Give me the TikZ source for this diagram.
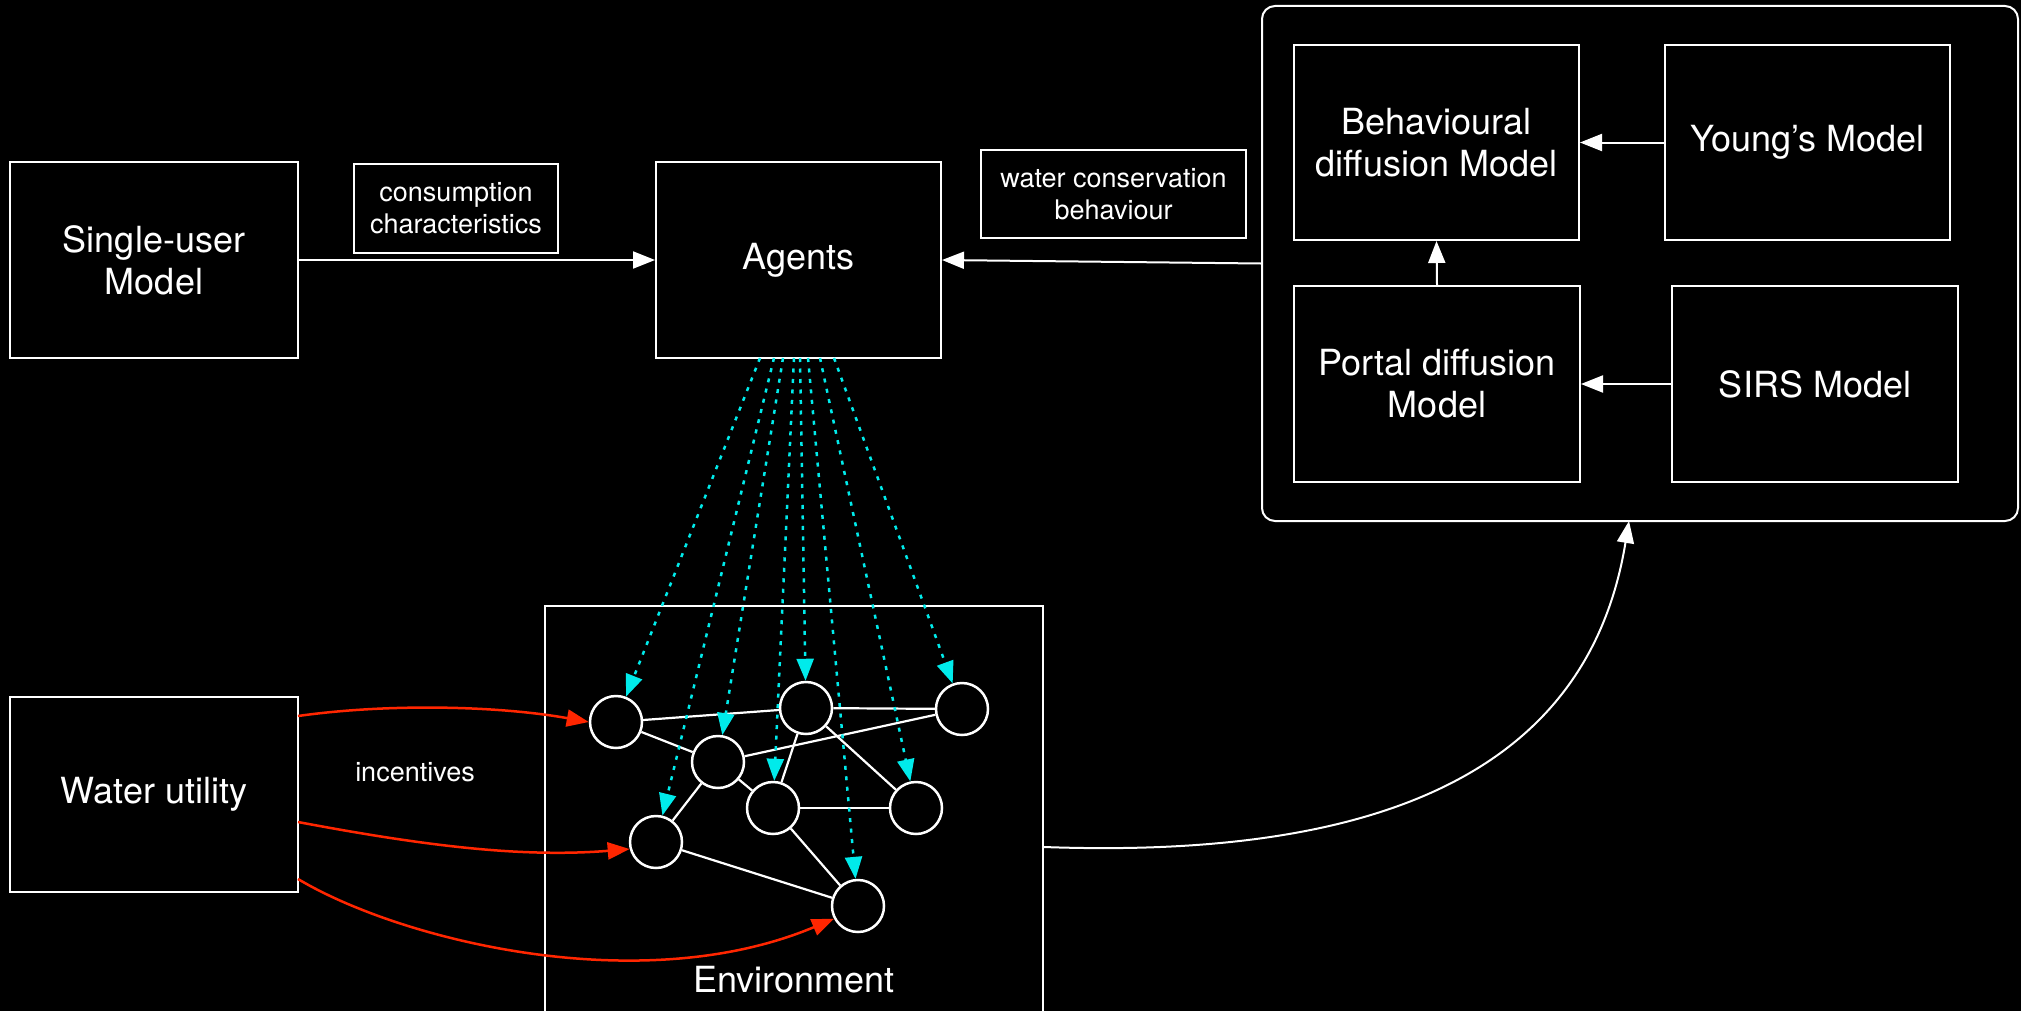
\documentclass[tikz,border=0pt]{standalone}
\usepackage{fontspec}
\setmainfont{TeX Gyre Heros}
\usetikzlibrary{arrows.meta}
\definecolor{cy}{RGB}{0,235,235}
\definecolor{rd}{RGB}{255,38,0}
\begin{document}
\begin{tikzpicture}[x=1bp,y=-1bp,
  every node/.style={text=white,font=\fontsize{36bp}{42bp}\selectfont,align=center,inner sep=0pt},
  box/.style={draw=white,line width=2bp,fill=black},
  small/.style={font=\fontsize{27bp}{32bp}\selectfont},
  wline/.style={white,line width=2.2bp},
  warrow/.style={white,line width=2bp,-{Triangle[length=22bp,width=17bp]}},
  carrow/.style={cy,line width=2.5bp,dash pattern=on 4bp off 6.5bp,-{Triangle[length=22bp,width=17bp]}},
  rarrow/.style={rd,line width=2.5bp,-{Triangle[length=22bp,width=17bp]}},
  agent/.style={circle,draw=white,line width=2.5bp,minimum size=52bp,fill=black}]
\useasboundingbox (0,0) rectangle (2021,1011);
\fill[black] (0,0) rectangle (2021,1011);

% top row
\node[box,minimum width=288bp,minimum height=196bp] (su) at (154,260) {Single-user\\Model};
\node[box,small,minimum width=204bp,minimum height=89bp] (cc) at (456,208) {consumption\\characteristics};
\node[box,minimum width=285bp,minimum height=196bp] (ag) at (798.5,260) {Agents};
\node[box,small,minimum width=265bp,minimum height=88bp] (wc) at (1113.5,194) {water conservation\\behaviour};
\node[draw=white,line width=2bp,rounded corners=13bp,minimum width=756bp,minimum height=515bp] (outer) at (1640,263.5) {};
\node[box,minimum width=285bp,minimum height=195bp] (beh) at (1436.5,142.5) {Behavioural\\diffusion Model};
\node[box,minimum width=285bp,minimum height=195bp] (yg) at (1807.5,142.5) {Young’s Model};
\node[box,minimum width=286bp,minimum height=196bp] (po) at (1437,384) {Portal diffusion\\Model};
\node[box,minimum width=286bp,minimum height=196bp] (si) at (1815,384) {SIRS Model};

\draw[warrow] (su.east) -- (ag.west);
\draw[warrow] (outer.west) -- (ag.east);
\draw[warrow] (yg.west) -- (beh.east);
\draw[warrow] (si.west) -- (po.east);
\draw[warrow] (po.north) -- (beh.south);

% bottom
\node[box,minimum width=288bp,minimum height=195bp] (wu) at (154,794.5) {Water utility};
\node[small] (inc) at (415,772) {incentives};
\node[draw=white,line width=2bp,minimum width=498bp,minimum height=482bp] (env) at (794,847) {};
\node (envl) at (794,980) {Environment};

% agent network
\node[agent] (c1) at (616,722) {};
\node[agent] (c2) at (806,708) {};
\node[agent] (c3) at (962,709) {};
\node[agent] (c4) at (718,762) {};
\node[agent] (c5) at (773,808) {};
\node[agent] (c6) at (916,808) {};
\node[agent] (c7) at (656,842) {};
\node[agent] (c8) at (858,906) {};
\draw[wline] (c1) -- (c2);
\draw[wline] (c1) -- (c4);
\draw[wline] (c2) -- (c3);
\draw[wline] (c2) -- (c5);
\draw[wline] (c2) -- (c6);
\draw[wline] (c4) -- (c3);
\draw[wline] (c4) -- (c5);
\draw[wline] (c4) -- (c7);
\draw[wline] (c5) -- (c6);
\draw[wline] (c5) -- (c8);
\draw[wline] (c7) -- (c8);

% cyan dotted links from agents
\coordinate (s1) at (760,358);
\coordinate (s2) at (774,358);
\coordinate (s3) at (783,358);
\coordinate (s4) at (794,358);
\coordinate (s5) at (800,358);
\coordinate (s6) at (808,358);
\coordinate (s7) at (820,358);
\coordinate (s8) at (834,358);
\draw[carrow] (s1) -- (c1);
\draw[carrow] (s2) -- (c7);
\draw[carrow] (s3) -- (c4);
\draw[carrow] (s4) -- (c5);
\draw[carrow] (s5) -- (c2);
\draw[carrow] (s6) -- (c8);
\draw[carrow] (s7) -- (c6);
\draw[carrow] (s8) -- (c3);

% red incentives
\coordinate (w1) at (298,716);
\coordinate (w2) at (298,822);
\coordinate (w3) at (298,879);
\draw[rarrow] (w1) .. controls (390,703) and (500,706) .. (c1.west);
\draw[rarrow] (w2) .. controls (420,845) and (520,858) .. (c7.195);
\draw[rarrow] (w3) .. controls (400,940) and (640,1000) .. (c8.208);

% environment to diffusion models
\coordinate (ob) at (1629,521);
\draw[warrow] (env.east) .. controls (1400,860) and (1590,760) .. (ob);
\end{tikzpicture}
\end{document}
